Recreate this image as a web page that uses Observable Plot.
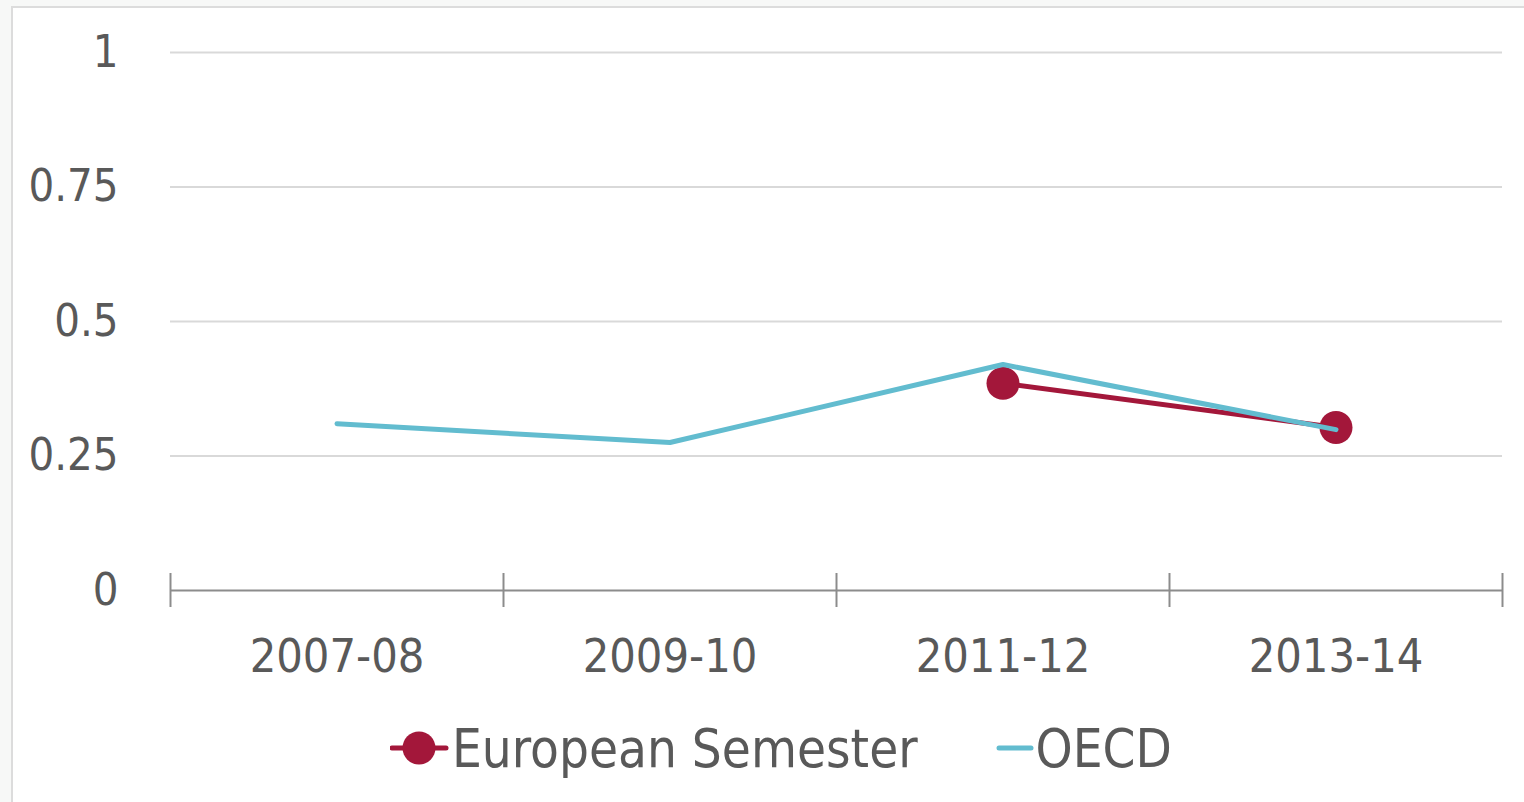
<!DOCTYPE html>
<html>
<head>
<meta charset="utf-8">
<script src="https://cdn.jsdelivr.net/npm/d3@7"></script>
<script src="https://cdn.jsdelivr.net/npm/@observablehq/plot@0.6"></script>
<style>
  html, body { margin: 0; padding: 0; background: #f7f8f7; width: 1524px; height: 802px; overflow: hidden; }
  #frame { position: absolute; left: 11px; top: 6px; width: 1600px; height: 900px; background: #ffffff; border: 2px solid #dcdcdc; }
  #wrap { position: absolute; left: 0; top: 0; width: 1524px; }
  #legend { display: flex; align-items: center; height: 96px; padding-left: 390px;
    font-family: "DejaVu Sans Condensed", "DejaVu Sans", sans-serif; font-stretch: condensed;
    font-size: 52.5px; color: #595959; }
  #legend .item { display: flex; align-items: center; }
  #legend svg { display: block; }
</style>
</head>
<body>
<div id="frame"></div>
<div id="wrap">
  <div id="chart"></div>
  <div id="legend"></div>
</div>
<script>
const categories = ["2007-08", "2009-10", "2011-12", "2013-14"];
const oecd = [0.31, 0.275, 0.42, 0.299];
const europeanSemester = [null, null, 0.385, 0.303];
const yTicks = [0, 0.25, 0.5, 0.75, 1];
const seriesNames = ["European Semester", "OECD"];
const seriesColors = ["#a3173a", "#62bccf"];

const boundaries = d3.range(categories.length + 1);
const oecdData = categories.map((c, i) => ({x: i + 0.5, y: oecd[i]}));
const esData = categories.map((c, i) => ({x: i + 0.5, y: europeanSemester[i]})).filter(d => d.y != null);

const chart = Plot.plot({
  width: 1524,
  height: 700,
  marginLeft: 170,
  marginRight: 22,
  marginTop: 52,
  marginBottom: 110,
  x: {domain: [0, categories.length]},
  y: {domain: [0, 1]},
  style: {
    fontFamily: '"DejaVu Sans Condensed", "DejaVu Sans", sans-serif',
    fontStretch: "condensed",
    fontSize: "45px",
    color: "#595959",
    background: "transparent",
    overflow: "visible"
  },
  marks: [
    Plot.ruleY(yTicks.filter(d => d > 0), {stroke: "#d9d9d9", strokeWidth: 2}),
    Plot.ruleY([0], {stroke: "#8c8c8c", strokeWidth: 2}),
    Plot.ruleX(boundaries, {x: d => d, y1: 0, y2: 0, insetTop: -17, insetBottom: -17, stroke: "#8c8c8c", strokeWidth: 2}),
    Plot.axisY({ticks: yTicks, tickSize: 0, tickPadding: 52, fontSize: 45, tickFormat: d => String(d), label: null}),
    Plot.axisX({ticks: categories.map((c, i) => i + 0.5), tickSize: 0, tickPadding: 48, fontSize: 46.5,
      tickFormat: d => categories[Math.floor(d)], label: null}),
    Plot.line(esData, {x: "x", y: "y", stroke: seriesColors[0], strokeWidth: 5}),
    Plot.dot(esData, {x: "x", y: "y", r: 16.5, fill: seriesColors[0]}),
    Plot.line(oecdData, {x: "x", y: "y", stroke: seriesColors[1], strokeWidth: 5})
  ]
});
document.getElementById("chart").appendChild(chart);

// Legend
const legend = d3.select("#legend");
const es = legend.append("div").attr("class", "item");
const s1 = es.append("svg").attr("width", 60).attr("height", 40);
s1.append("line").attr("x1", 2).attr("x2", 56).attr("y1", 20).attr("y2", 20)
  .attr("stroke", seriesColors[0]).attr("stroke-width", 5).attr("stroke-linecap", "round");
s1.append("circle").attr("cx", 29).attr("cy", 20).attr("r", 16.5).attr("fill", seriesColors[0]);
es.append("span").text(seriesNames[0]).style("margin-left", "2px");

const oe = legend.append("div").attr("class", "item").style("margin-left", "78px");
const s2 = oe.append("svg").attr("width", 38).attr("height", 40);
s2.append("line").attr("x1", 3).attr("x2", 35).attr("y1", 20).attr("y2", 20)
  .attr("stroke", seriesColors[1]).attr("stroke-width", 5).attr("stroke-linecap", "round");
oe.append("span").text(seriesNames[1]).style("margin-left", "2px");
</script>
</body>
</html>
